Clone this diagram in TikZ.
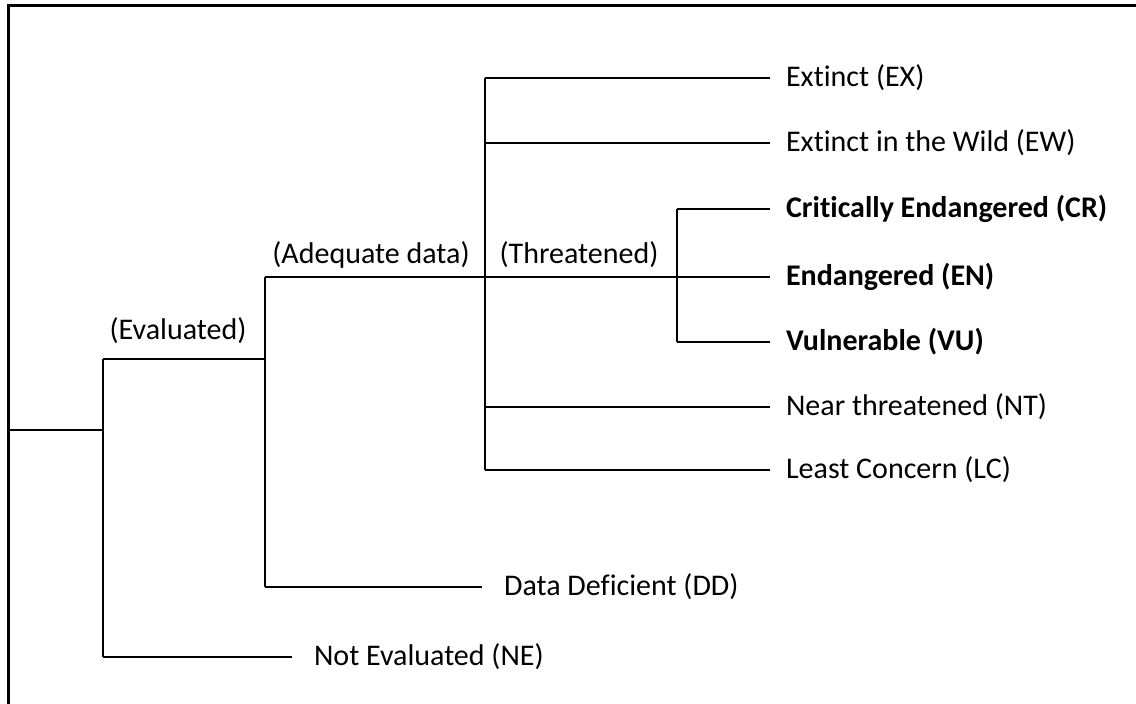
\documentclass[tikz,border=0pt]{standalone}
\usepackage{fontspec}
\setmainfont[Ligatures=NoCommon]{Carlito}
\usetikzlibrary{positioning}

\begin{document}
\begin{tikzpicture}[x=0.5pt, y=-0.5pt, line width=1.1pt,
  leaf/.style={anchor=west, inner sep=0pt, font=\fontsize{15}{18}\selectfont},
  branch/.style={inner sep=0pt, font=\fontsize{15}{18}\selectfont}]

\useasboundingbox (0,0) rectangle (1136,704);

% frame
\draw[line width=1.6pt] (8.5,704) -- (8.5,5.5) -- (1136,5.5);

% junctions
\coordinate (root) at (8.5,430);
\coordinate (jRoot) at (103,430);
\coordinate (jEval) at (103,359);
\coordinate (jNE) at (103,657);
\coordinate (aEval) at (265,359);
\coordinate (aAdq) at (265,277);
\coordinate (aDD) at (265,587);
\coordinate (tEX) at (485,78);
\coordinate (tEW) at (485,143);
\coordinate (tEN) at (485,277);
\coordinate (tNT) at (485,407);
\coordinate (tLC) at (485,470);
\coordinate (cCR) at (677,209);
\coordinate (cEN) at (677,277);
\coordinate (cVU) at (677,342);

% labels
\node[branch] (eval) at (178,331) {(Evaluated)};
\node[branch] (adq) at (371,255) {(Adequate data)};
\node[branch] (thr) at (579,255) {(Threatened)};

\node[leaf] (ex) at (785,78) {Extinct (EX)};
\node[leaf] (ew) at (785,143) {Extinct in the Wild (EW)};
\node[leaf] (cr) at (785,209) {\bfseries Critically Endangered (CR)};
\node[leaf] (en) at (785,277) {\bfseries Endangered (EN)};
\node[leaf] (vu) at (785,342) {\bfseries Vulnerable (VU)};
\node[leaf] (nt) at (785,407) {Near threatened (NT)};
\node[leaf] (lc) at (785,470) {Least Concern (LC)};
\node[leaf] (dd) at (503,587) {Data Deficient (DD)};
\node[leaf] (ne) at (313,657) {Not Evaluated (NE)};

% tree
\draw (root) -- (jRoot);
\draw (jEval) -- (jNE);
\draw (jEval) -- (aEval);
\draw (jNE) -- ([xshift=-10.5pt]ne.west);
\draw (aAdq) -- (aDD);
\draw (aDD) -- ([xshift=-10.5pt]dd.west);
\draw (tEX) -- (tLC);
\draw (aAdq) -- ([xshift=-7.5pt]en.west);
\draw (tEX) -- ([xshift=-7.5pt]ex.west);
\draw (tEW) -- ([xshift=-7.5pt]ew.west);
\draw (tNT) -- ([xshift=-7.5pt]nt.west);
\draw (tLC) -- ([xshift=-7.5pt]lc.west);
\draw (cCR) -- (cVU);
\draw (cCR) -- ([xshift=-7.5pt]cr.west);
\draw (cVU) -- ([xshift=-7.5pt]vu.west);

\end{tikzpicture}
\end{document}
